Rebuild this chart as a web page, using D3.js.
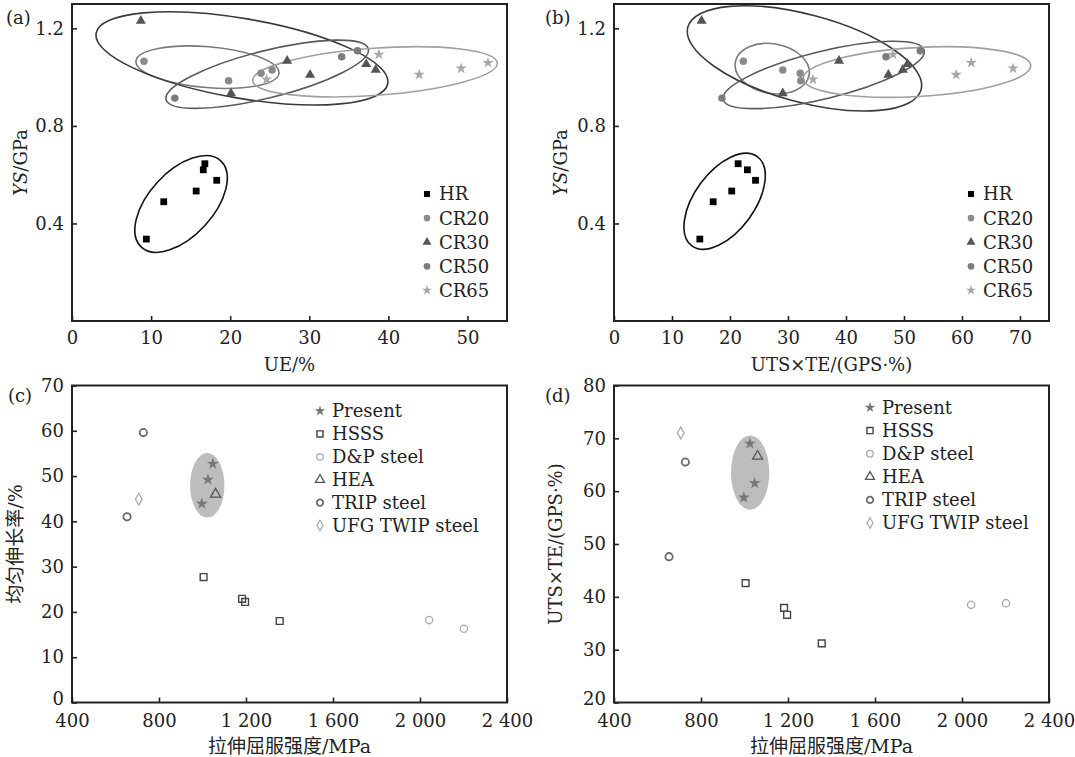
<!DOCTYPE html>
<html><head><meta charset="utf-8">
<script src="https://cdn.jsdelivr.net/npm/d3@7"></script>
<style>
body{margin:0;background:#fff}
text{font-family:"DejaVu Serif","Noto Sans CJK SC",serif;fill:#222}
</style>
</head><body>
<svg id="chart" width="1075" height="757"></svg>
<script>
// ---------- DATA: panels (a) and (b) ----------
const groupsAB = ["HR","CR20","CR30","CR50","CR65"];
const HR_UE  = [16.8, 16.6, 18.3, 15.7, 11.6, 9.4];
const HR_YS  = [0.645, 0.620, 0.577, 0.533, 0.489, 0.336];
const HR_PSE = [21.4, 23.0, 24.4, 20.3, 17.1, 14.8];
const CR20_UE  = [9.1, 19.8, 23.9, 25.3];
const CR20_YS  = [1.065, 0.985, 1.016, 1.029];
const CR20_PSE = [22.3, 32.2, 32.1, 29.1];
const CR30_UE  = [8.7, 27.2, 30.1, 20.1, 37.2, 38.4];
const CR30_YS  = [1.231, 1.067, 1.010, 0.934, 1.054, 1.030];
const CR30_PSE = [15.1, 38.8, 47.3, 29.1, 50.6, 49.8];
const CR50_UE  = [13.0, 34.1, 36.1];
const CR50_YS  = [0.914, 1.084, 1.108];
const CR50_PSE = [18.6, 46.9, 52.8];
const CR65_UE  = [24.6, 38.8, 43.9, 49.2, 52.6];
const CR65_YS  = [0.991, 1.093, 1.010, 1.036, 1.059];
const CR65_PSE = [34.3, 48.1, 59.0, 68.8, 61.6];
// ellipses: [centre x, centre y], [major-axis end x, y], minor/major ratio
const ellA_HR   = [[13.79,0.480],[18.81,0.657],0.548];
const ellA_CR20 = [[17.13,1.041],[26.17,1.016],0.285];
const ellA_CR30 = [[21.49,1.077],[39.93,0.974],0.269];
const ellA_CR50 = [[24.68,1.012],[37.46,1.116],0.226];
const ellA_CR65 = [[38.31,1.022],[53.77,1.058],0.192];
const ellB_HR   = [[19.07,0.491],[24.71,0.674],0.541];
const ellB_CR20 = [[27.28,1.035],[33.64,1.008],0.661];
const ellB_CR30 = [[32.84,1.077],[52.95,0.949],0.363];
const ellB_CR50 = [[36.16,1.009],[53.48,1.110],0.229];
const ellB_CR65 = [[52.24,1.021],[71.84,1.048],0.215];
const ticksAx = [0,10,20,30,40,50];
const ticksBx = [0,10,20,30,40,50,60,70];
const ticksABy = [0.4,0.8,1.2];

// ---------- DATA: panels (c) and (d) ----------
const groupsCD = ["Present","HSSS","D&P steel","HEA","TRIP steel","UFG TWIP steel"];
const Present_YS = [997, 1025, 1047];
const Present_UE = [43.9, 49.2, 52.7];
const Present_PSE= [58.8, 69.0, 61.5];
const HSSS_YS = [1005, 1182, 1196, 1355];
const HSSS_UE = [27.7, 22.9, 22.2, 18.0];
const HSSS_PSE= [42.6, 37.9, 36.6, 31.2];
const DP_YS = [2042, 2202];
const DP_UE = [18.2, 16.3];
const DP_PSE= [38.5, 38.8];
const HEA_YS = [1060];
const HEA_UE = [46.0];
const HEA_PSE= [66.6];
const TRIP_YS = [728, 653];
const TRIP_UE = [59.6, 41.0];
const TRIP_PSE= [65.5, 47.6];
const TWIP_YS = [707];
const TWIP_UE = [44.9];
const TWIP_PSE= [71.0];
// shaded ellipse round "Present": centre, radii (MPa, y units)
const ellC = [[1022, 47.95],[79, 7.12]];
const ellD = [[1026, 63.5],[88, 7.03]];
const ticksCDx = [400,800,1200,1600,2000,2400];
const ticksCy = [0,10,20,30,40,50,60,70];
const ticksDy = [20,30,40,50,60,70,80];

// ---------- STYLES ----------
const abStyle = {
  HR:  {sym:d3.symbolSquare,  size:46, fill:"#000",    stroke:"none", ell:"#111"},
  CR20:{sym:d3.symbolCircle,  size:44, fill:"#8a8a8a", stroke:"none", ell:"#7a7a7a"},
  CR30:{sym:d3.symbolTriangle,size:44, fill:"#555",    stroke:"none", ell:"#3a3a3a"},
  CR50:{sym:d3.symbolCircle,  size:44, fill:"#7c7c7c", stroke:"none", ell:"#5a5a5a"},
  CR65:{sym:d3.symbolStar,    size:40, fill:"#a8a8a8", stroke:"none", ell:"#a0a0a0"}
};
const cdStyle = {
  "Present":       {sym:d3.symbolStar,    size:44, fill:"#777", stroke:"none", sw:0},
  "HSSS":          {sym:d3.symbolSquare,  size:46, fill:"none", stroke:"#444", sw:1.4},
  "D&P steel":     {sym:d3.symbolCircle,  size:42, fill:"none", stroke:"#aaa", sw:1.3},
  "HEA":           {sym:d3.symbolTriangle,size:44, fill:"none", stroke:"#555", sw:1.3},
  "TRIP steel":    {sym:d3.symbolCircle,  size:42, fill:"none", stroke:"#6a6a6a", sw:1.8},
  "UFG TWIP steel":{sym:d3.symbolDiamond, size:40, fill:"none", stroke:"#aaa", sw:1.3}
};

const svg = d3.select("#chart");
const W = 435, H = 317;

function makePanel(o){
  const g = svg.append("g").attr("transform",`translate(${o.left},${o.top})`);
  const x = d3.scaleLinear().domain(o.xd).range([0,W]);
  const y = d3.scaleLinear().domain(o.yd).range([H,0]);
  const ax = g.append("g").attr("transform",`translate(0,${H})`)
    .call(d3.axisBottom(x).tickValues(o.xt).tickSize(-5).tickPadding(o.xpad||10).tickFormat(o.xf));
  const ay = g.append("g")
    .call(d3.axisLeft(y).tickValues(o.yt).tickSize(-5).tickPadding(8).tickFormat(o.yf));
  [ax,ay].forEach(a=>{
    a.select(".domain").remove();
    a.selectAll("line").attr("stroke","#222").attr("stroke-width",1.6);
    a.selectAll("text").attr("font-size",18).attr("fill","#222")
      .style("font-family",'"DejaVu Serif",serif');
  });
  if (o.liftBottom) {
    ay.selectAll(".tick text").filter(d=>d===o.yd[0]).attr("dy","0.1em");
  }
  g.append("rect").attr("width",W).attr("height",H)
    .attr("fill","none").attr("stroke","#222").attr("stroke-width",2);
  return {g,x,y};
}

function ellipseRot(P, e, color){
  const cx = P.x(e[0][0]), cy = P.y(e[0][1]);
  const ex = P.x(e[1][0]), ey = P.y(e[1][1]);
  const a = Math.hypot(ex-cx, ey-cy);
  const ang = Math.atan2(ey-cy, ex-cx)*180/Math.PI;
  P.g.append("ellipse").attr("cx",cx).attr("cy",cy).attr("rx",a).attr("ry",a*e[2])
    .attr("transform",`rotate(${ang},${cx},${cy})`)
    .attr("fill","none").attr("stroke",color).attr("stroke-width",1.6);
}

function points(P, xs, ys, st){
  P.g.selectAll(null).data(xs.map((v,i)=>[v,ys[i]])).enter().append("path")
    .attr("transform",d=>`translate(${P.x(d[0])},${P.y(d[1])})`)
    .attr("d",d3.symbol().type(st.sym).size(st.size))
    .attr("fill",st.fill).attr("stroke",st.stroke).attr("stroke-width",st.sw||0);
}

function legend(P, names, styles, lx, ly0, dy){
  names.forEach((n,i)=>{
    const s = styles[n];
    P.g.append("path").attr("transform",`translate(${lx},${ly0+i*dy})`)
      .attr("d",d3.symbol().type(s.sym).size(s.size*0.8))
      .attr("fill",s.fill).attr("stroke",s.stroke).attr("stroke-width",s.sw||0);
    P.g.append("text").attr("x",lx+12).attr("y",ly0+i*dy).attr("dy","0.36em")
      .attr("font-size",18).text(n);
  });
}

function yTitleYS(P, xoff){
  const t = P.g.append("text").attr("transform",`translate(${xoff},${H/2}) rotate(-90)`)
    .attr("text-anchor","middle").attr("font-size",18);
  t.append("tspan").attr("font-style","italic").text("YS");
  t.append("tspan").text("/GPa");
}

const fmt1 = d3.format(".1f");
const fmtK = d => d>=1000 ? d3.format(",")(d).replace(","," ") : String(d);

// ----- (a) -----
const A = makePanel({left:72, top:4, xd:[0,55], yd:[0,1.3], xt:ticksAx, yt:ticksABy, xf:d3.format("d"), yf:fmt1});
[[ellA_HR,"HR"],[ellA_CR20,"CR20"],[ellA_CR30,"CR30"],[ellA_CR50,"CR50"],[ellA_CR65,"CR65"]]
  .forEach(([e,n])=>ellipseRot(A,e,abStyle[n].ell));
points(A, HR_UE, HR_YS, abStyle.HR);
points(A, CR20_UE, CR20_YS, abStyle.CR20);
points(A, CR50_UE, CR50_YS, abStyle.CR50);
points(A, CR65_UE, CR65_YS, abStyle.CR65);
points(A, CR30_UE, CR30_YS, abStyle.CR30);
legend(A, groupsAB, abStyle, 355, 190, 24.1);
A.g.append("text").attr("x",W/2).attr("y",H+50).attr("text-anchor","middle").attr("font-size",18).text("UE/%");
yTitleYS(A, -45);
svg.append("text").attr("x",6).attr("y",24).attr("font-size",18).text("(a)");

// ----- (b) -----
const B = makePanel({left:614, top:4, xd:[0,75], yd:[0,1.3], xt:ticksBx, yt:ticksABy, xf:d3.format("d"), yf:fmt1});
[[ellB_HR,"HR"],[ellB_CR20,"CR20"],[ellB_CR30,"CR30"],[ellB_CR50,"CR50"],[ellB_CR65,"CR65"]]
  .forEach(([e,n])=>ellipseRot(B,e,abStyle[n].ell));
points(B, HR_PSE, HR_YS, abStyle.HR);
points(B, CR20_PSE, CR20_YS, abStyle.CR20);
points(B, CR50_PSE, CR50_YS, abStyle.CR50);
points(B, CR65_PSE, CR65_YS, abStyle.CR65);
points(B, CR30_PSE, CR30_YS, abStyle.CR30);
legend(B, groupsAB, abStyle, 357, 190, 24.1);
B.g.append("text").attr("x",W/2).attr("y",H+50).attr("text-anchor","middle").attr("font-size",18).text("UTS×TE/(GPS·%)");
yTitleYS(B, -47);
svg.append("text").attr("x",545).attr("y",24).attr("font-size",18).text("(b)");

// ----- (c) -----
const C = makePanel({left:72, top:385.5, xd:[400,2400], yd:[0,70], xt:ticksCDx, yt:ticksCy, xf:fmtK, yf:d3.format("d"), xpad:12, liftBottom:true});
C.g.append("ellipse").attr("cx",C.x(ellC[0][0])).attr("cy",C.y(ellC[0][1]))
  .attr("rx",C.x(ellC[0][0]+ellC[1][0])-C.x(ellC[0][0]))
  .attr("ry",C.y(ellC[0][1]-ellC[1][1])-C.y(ellC[0][1])).attr("fill","#bdbdbd");
points(C, Present_YS, Present_UE, cdStyle["Present"]);
points(C, HSSS_YS, HSSS_UE, cdStyle["HSSS"]);
points(C, DP_YS, DP_UE, cdStyle["D&P steel"]);
points(C, HEA_YS, HEA_UE, cdStyle["HEA"]);
points(C, TRIP_YS, TRIP_UE, cdStyle["TRIP steel"]);
points(C, TWIP_YS, TWIP_UE, cdStyle["UFG TWIP steel"]);
legend(C, groupsCD, cdStyle, 248, 25.5, 22.9);
C.g.append("text").attr("x",W/2).attr("y",H+50).attr("text-anchor","middle").attr("font-size",19).text("拉伸屈服强度/MPa");
C.g.append("text").attr("transform",`translate(-50,${H/2}) rotate(-90)`).attr("text-anchor","middle").attr("font-size",19).text("均匀伸长率/%");
svg.append("text").attr("x",8).attr("y",402).attr("font-size",18).text("(c)");

// ----- (d) -----
const D = makePanel({left:614, top:385.5, xd:[400,2400], yd:[20,80], xt:ticksCDx, yt:ticksDy, xf:fmtK, yf:d3.format("d"), xpad:12, liftBottom:true});
D.g.append("ellipse").attr("cx",D.x(ellD[0][0])).attr("cy",D.y(ellD[0][1]))
  .attr("rx",D.x(ellD[0][0]+ellD[1][0])-D.x(ellD[0][0]))
  .attr("ry",D.y(ellD[0][1]-ellD[1][1])-D.y(ellD[0][1])).attr("fill","#bdbdbd");
points(D, Present_YS, Present_PSE, cdStyle["Present"]);
points(D, HSSS_YS, HSSS_PSE, cdStyle["HSSS"]);
points(D, DP_YS, DP_PSE, cdStyle["D&P steel"]);
points(D, HEA_YS, HEA_PSE, cdStyle["HEA"]);
points(D, TRIP_YS, TRIP_PSE, cdStyle["TRIP steel"]);
points(D, TWIP_YS, TWIP_PSE, cdStyle["UFG TWIP steel"]);
legend(D, groupsCD, cdStyle, 256, 22, 23.1);
D.g.append("text").attr("x",W/2).attr("y",H+50).attr("text-anchor","middle").attr("font-size",19).text("拉伸屈服强度/MPa");
D.g.append("text").attr("transform",`translate(-52,${H/2}) rotate(-90)`).attr("text-anchor","middle").attr("font-size",18).text("UTS×TE/(GPS·%)");
svg.append("text").attr("x",545).attr("y",402).attr("font-size",18).text("(d)");
</script>
</body></html>
